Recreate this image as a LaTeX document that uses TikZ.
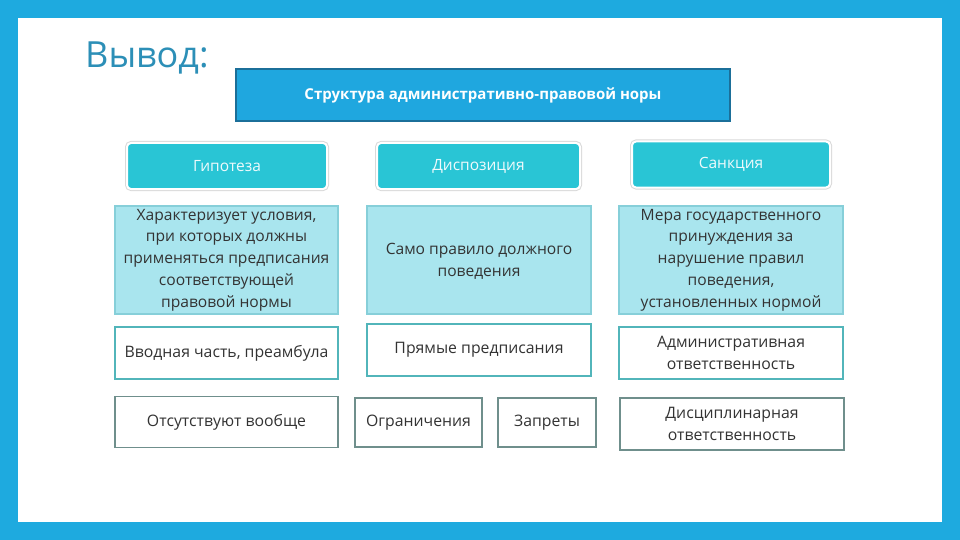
\documentclass[tikz,border=0pt]{standalone}
\usepackage{fontspec}
\setmainfont{Open Sans}
\definecolor{frameblue}{HTML}{1EAADF}
\definecolor{titleblue}{HTML}{2C8FB7}
\definecolor{topfill}{HTML}{1FA7DF}
\definecolor{topline}{HTML}{1B6F99}
\definecolor{headfill}{HTML}{29C5D5}
\definecolor{descfill}{HTML}{A9E5EE}
\definecolor{descline}{HTML}{86CFD9}
\definecolor{rowline}{HTML}{52B5BA}
\definecolor{lowline}{HTML}{6F8F8C}
\definecolor{txt}{HTML}{333333}
\tikzset{
  topbox/.style={draw=topline, fill=topfill, line width=1.5pt, text=white,
    font=\fontsize{15}{17}\selectfont\bfseries, inner sep=0pt},
  headbox/.style={draw=white, fill=headfill, line width=2pt, rounded corners=4pt,
    text=white!92!headfill, font=\fontsize{15.5}{18}\selectfont, inner sep=0pt,
    preaction={draw=black!15, line width=4pt, rounded corners=5pt}},
  descbox/.style={draw=descline, fill=descfill, line width=1.2pt, text=txt,
    font=\fontsize{15.6}{21.7}\selectfont, align=center, inner sep=0pt},
  rowbox/.style={draw=rowline, fill=white, line width=2pt, text=txt,
    font=\fontsize{15.8}{21.5}\selectfont, align=center, inner sep=0pt},
  lowbox/.style={draw=lowline, fill=white, line width=1.6pt, text=txt,
    font=\fontsize{15.8}{21.5}\selectfont, align=center, inner sep=0pt},
}
\begin{document}
\begin{tikzpicture}[x=1pt,y=-1pt]
\useasboundingbox (0,0) rectangle (960,540);
\fill[frameblue] (0,0) rectangle (960,540);
\fill[white] (18,18) rectangle (942,522);
\node[anchor=base west, text=titleblue, font=\fontsize{36}{40}\selectfont, inner sep=0pt] (title) at (85,68) {Вывод:};
\node[topbox, minimum width=494pt, minimum height=52pt] (top) at (483,95) {Структура административно-правовой норы};
\node[headbox, minimum width=200pt, minimum height=46pt] (h1) at (227,166) {Гипотеза};
\node[headbox, minimum width=203pt, minimum height=46pt] (h2) at (478.5,166) {Диспозиция};
\node[headbox, minimum width=198pt, minimum height=46pt] (h3) at (731,164.5) {Санкция};
\node[descbox, minimum width=223pt, minimum height=108pt] (d1) at (226.5,260) {Характеризует условия,\\при которых должны\\применяться предписания\\соответствующей\\правовой нормы};
\node[descbox, minimum width=224pt, minimum height=108pt] (d2) at (479,260) {};
\node[font=\fontsize{15.6}{21.7}\selectfont, text=txt, align=center] (d2t) at (479,261) {Само правило должного\\поведения};
\node[descbox, minimum width=224pt, minimum height=108pt] (d3) at (731,260) {Мера государственного\\принуждения за\\нарушение правил\\поведения,\\установленных нормой};
\node[rowbox, minimum width=223pt, minimum height=52pt] (r1) at (226.5,353) {Вводная часть, преамбула};
\node[rowbox, minimum width=224pt, minimum height=52pt] (r2) at (479,350) {Прямые предписания};
\node[rowbox, minimum width=224pt, minimum height=52pt] (r3) at (731,353) {Административная\\ответственность};
\node[lowbox, minimum width=223pt, minimum height=51pt] (b1) at (226.5,422) {Отсутствуют вообще};
\node[lowbox, minimum width=127pt, minimum height=49pt] (b2) at (418.5,422.5) {Ограничения};
\node[lowbox, minimum width=98pt, minimum height=49pt] (b3) at (547,422.5) {Запреты};
\node[lowbox, minimum width=224pt, minimum height=52pt] (b4) at (732,424) {Дисциплинарная\\ответственность};
\end{tikzpicture}
\end{document}
